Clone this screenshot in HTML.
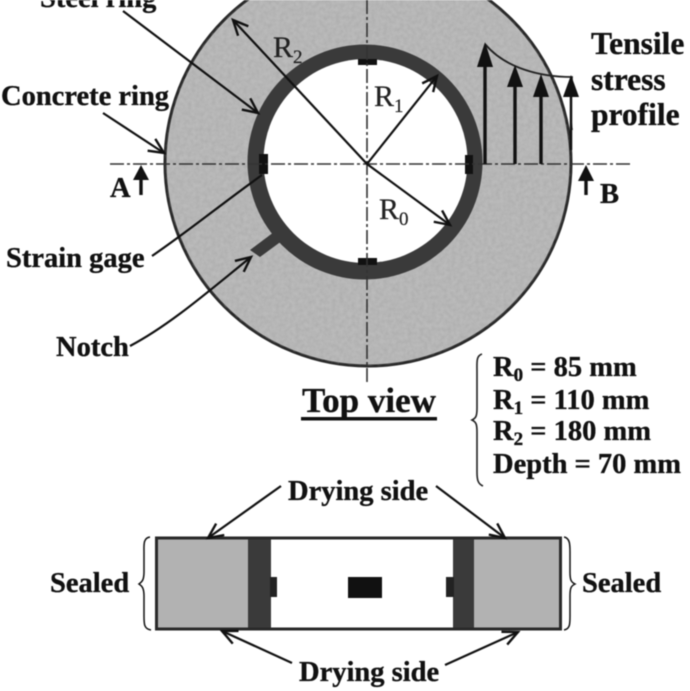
<!DOCTYPE html>
<html><head><meta charset="utf-8"><style>
html,body{margin:0;padding:0;background:#fff;width:690px;height:691px;overflow:hidden}
svg{display:block;filter:blur(.6px)}
text{font-family:"Liberation Serif",serif;font-weight:bold;fill:#111;font-size:28.5px;stroke:#111;stroke-width:.35px}
.n{font-weight:normal;fill:#222;font-size:30px;stroke-width:.2px}
.t{font-size:31.500px}
tspan.s{font-size:19px}
</style></head><body>
<svg width="690" height="691" viewBox="0 0 690 691" xmlns="http://www.w3.org/2000/svg">
<defs>
<marker id="o" markerUnits="userSpaceOnUse" markerWidth="20" markerHeight="18" refX="17" refY="9" orient="auto"><path d="M2 2L17 9L2 16" fill="none" stroke="#111" stroke-width="2.4"/></marker>
<filter id="grain" x="0" y="0" width="100%" height="100%"><feTurbulence type="fractalNoise" baseFrequency=".25" numOctaves="2" seed="4"/><feColorMatrix values="0 0 0 0 .3  0 0 0 0 .3  0 0 0 0 .3  0 0 0 .55 -.16"/></filter>
<clipPath id="disc"><circle cx="368" cy="163" r="203"/></clipPath>
</defs>
<!-- top view -->
<circle cx="368" cy="163" r="203" fill="#bababa" stroke="#262626" stroke-width="3"/>
<g clip-path="url(#disc)"><rect x="160" y="0" width="420" height="370" filter="url(#grain)"/></g>
<circle cx="365" cy="162" r="117.500" fill="#3a3a3a"/>
<path d="M250 250L270 235L287 222L298 235L279 243L260 257Z" fill="#3a3a3a"/>
<circle cx="365.500" cy="161" r="102" fill="#fff"/>
<g fill="#111">
<rect x="358" y="59" width="19" height="6"/><rect x="358" y="258" width="19" height="7"/>
<rect x="259" y="154" width="9" height="20"/><rect x="465" y="155" width="8" height="19"/>
</g>
<g stroke="#333" stroke-width="1.6" stroke-dasharray="14 3 3 3" fill="none">
<path d="M110 164H630"/><path d="M367 0V382"/>
</g>
<!-- radii and leaders -->
<g stroke="#111" stroke-width="2.2" fill="none">
<path d="M367 164L233 20" marker-end="url(#o)"/>
<path d="M367 164L437 76" marker-end="url(#o)"/>
<path d="M367 164L450 225" marker-end="url(#o)"/>
<path d="M123 11L258 113" marker-end="url(#o)"/>
<path d="M103 113L164 153" marker-end="url(#o)"/>
<path d="M152 256C190 230 220 205 262 175"/>
<path d="M130 346C170 325 210 290 251 257" marker-end="url(#o)"/>
</g>
<!-- stress profile -->
<path d="M485 44C505 68 540 77 572 77C571 100 570 120 572 130" fill="none" stroke="#222" stroke-width="1.8"/>
<g stroke="#111" stroke-width="3.400">
<path d="M485 60V164"/><path d="M515 80V164"/><path d="M541 90V164"/><path d="M571 92V150" stroke-width="2.500"/>
<path d="M141 195V170"/><path d="M586 195V172"/>
</g>
<g fill="#111">
<path d="M485 42L493 67H477Z"/><path d="M515 65L523 87H507Z"/><path d="M541 74L549 97H533Z"/><path d="M571 75L579 97H563Z"/>
<path d="M141 165L149 180H133Z"/><path d="M586 165L594 181H578Z"/>
</g>
<!-- labels -->
<text x="40" y="7">Steel ring</text>
<text x="1" y="105">Concrete ring</text>
<text x="110" y="197">A</text>
<text x="600" y="203">B</text>
<text x="6" y="267">Strain gage</text>
<text x="56" y="356">Notch</text>
<text class="t" x="591" y="54">Tensile</text>
<text class="t" x="591" y="90">stress</text>
<text class="t" x="591" y="125">profile</text>
<text class="n" x="273" y="57">R<tspan class="s" dy="6">2</tspan></text>
<text class="n" x="374" y="106">R<tspan class="s" dy="6">1</tspan></text>
<text class="n" x="379" y="219">R<tspan class="s" dy="6">0</tspan></text>
<text x="302" y="412" style="font-size:35px">Top view</text>
<rect x="301" y="417" width="136" height="3.500" fill="#111"/>
<path d="M482 354C476 356 477 362 477 372V408C477 416 476 418 472 420C476 422 477 424 477 432V472C477 480 478 484 483 486" fill="none" stroke="#222" stroke-width="1.600"/>
<text x="493" y="376">R<tspan class="s" dy="5">0</tspan><tspan dy="-5"> = 85 mm</tspan></text>
<text x="493" y="409">R<tspan class="s" dy="5">1</tspan><tspan dy="-5"> = 110 mm</tspan></text>
<text x="493" y="440">R<tspan class="s" dy="5">2</tspan><tspan dy="-5"> = 180 mm</tspan></text>
<text x="493" y="473">Depth = 70 mm</text>
<!-- section view -->
<rect x="157" y="538" width="91" height="91" fill="#b2b2b2"/>
<rect x="472" y="538" width="88" height="91" fill="#b2b2b2"/>
<rect x="248" y="538" width="23" height="91" fill="#3a3a3a"/>
<rect x="453" y="538" width="21" height="91" fill="#3a3a3a"/>
<rect x="156.500" y="538" width="404" height="91" fill="none" stroke="#2a2a2a" stroke-width="3"/>
<rect x="348" y="577" width="34" height="21" fill="#111"/>
<rect x="270" y="577" width="7" height="20" fill="#222"/>
<rect x="446" y="577" width="8" height="20" fill="#222"/>
<text x="288" y="500">Drying side</text>
<text x="299" y="681">Drying side</text>
<text x="50" y="592">Sealed</text>
<text x="582" y="592">Sealed</text>
<g stroke="#111" stroke-width="2.2" fill="none">
<path d="M281 486L208 538" marker-end="url(#o)"/>
<path d="M436 486L505 538" marker-end="url(#o)"/>
<path d="M292 663L222 631" marker-end="url(#o)"/>
<path d="M445 665L518 632" marker-end="url(#o)"/>
<path d="M150 537C143 538 144 545 144 552V572C144 580 142 582 139 584C142 586 144 588 144 596V616C144 624 144 629 151 630" stroke-width="1.500"/>
<path d="M564 537C570 538 570 545 570 552V572C570 580 571 582 575 584C571 586 570 588 570 596V616C570 624 570 629 564 630" stroke-width="1.500"/>
</g>
</svg>
</body></html>
